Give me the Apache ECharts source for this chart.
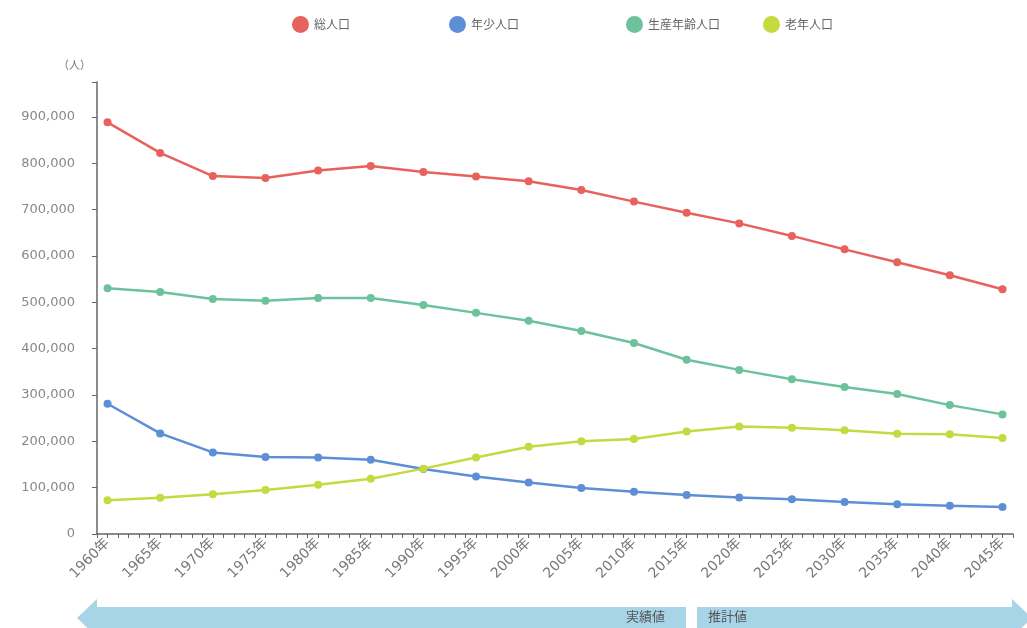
<!DOCTYPE html>
<html>
<head>
<meta charset="utf-8">
<script src="https://cdn.jsdelivr.net/npm/echarts@6/dist/echarts.min.js"></script>
<style>
  html, body { margin: 0; padding: 0; background: #fff; }
  #main { width: 1027px; height: 628px; }
</style>
</head>
<body>
<div id="main"></div>
<script>
// 年次（5年ごと）
var years = [1960, 1965, 1970, 1975, 1980, 1985, 1990, 1995, 2000, 2005,
             2010, 2015, 2020, 2025, 2030, 2035, 2040, 2045];

var seriesNames = ['総人口', '年少人口', '生産年齢人口', '老年人口'];

var totalPop = [888000, 822000, 772000, 768000, 784000, 794000, 781000, 771000, 761000,
                742000, 717000, 693000, 670000, 643000, 614000, 586000, 558000, 528000];
var youngPop = [281000, 217000, 176000, 166000, 165000, 160000, 140000, 124000, 111000,
                99000, 91000, 84000, 79000, 75000, 69000, 64000, 61000, 58000];
var workingPop = [530000, 522000, 507000, 503000, 509000, 509000, 494000, 477000, 460000,
                  438000, 412000, 376000, 354000, 334000, 317000, 302000, 278000, 258000];
var elderlyPop = [73000, 78000, 86000, 95000, 106000, 119000, 141000, 165000, 188000,
                  200000, 205000, 221000, 232000, 229000, 224000, 216000, 215000, 207000];

var colors = ['#e8625d', '#5c8fd6', '#6cc29c', '#c4da40'];

function pairs(values) {
    return years.map(function (y, i) { return [y, values[i]]; });
}

var chartDom = document.getElementById('main');
var myChart = echarts.init(chartDom);
var font = '"Noto Sans CJK JP", "Noto Sans", sans-serif';
var numFont = '"DejaVu Sans", "Noto Sans CJK JP", sans-serif';

var legendLefts = [287, 444, 621, 758];
var legends = seriesNames.map(function (name, i) {
    return {
        data: [name],
        left: legendLefts[i],
        top: 11,
        icon: 'circle',
        itemWidth: 17,
        itemHeight: 17,
        itemGap: 0,
        textStyle: { color: '#666', fontSize: 12, fontFamily: font }
    };
});

var option = {
    animation: false,
    color: colors,
    textStyle: { fontFamily: font },
    legend: legends,
    grid: { left: 97, right: 14, top: 82, bottom: 94 },
    xAxis: {
        type: 'value',
        min: 1959,
        max: 2046,
        interval: 1,
        splitLine: { show: false },
        axisLine: { lineStyle: { color: '#666', width: 1.5 } },
        axisTick: { length: 4, lineStyle: { color: '#666' } },
        axisLabel: {
            rotate: 45,
            color: '#777',
            fontSize: 14,
            fontFamily: numFont,
            margin: 7,
            formatter: function (v) { return v % 5 === 0 ? v + '年' : ''; }
        }
    },
    yAxis: {
        type: 'value',
        min: 0,
        max: 975000,
        interval: 100000,
        name: '（人）',
        nameLocation: 'end',
        nameGap: 12,
        nameTextStyle: { color: '#777', fontSize: 11, align: 'right', padding: [0, 6, 0, 0] },
        splitLine: { show: false },
        axisLine: { show: true, lineStyle: { color: '#666', width: 1.5 } },
        axisTick: { show: true, length: 5, lineStyle: { color: '#666' } },
        axisLabel: {
            color: '#888',
            fontSize: 13,
            fontFamily: numFont,
            margin: 22,
            formatter: function (v) {
                if (v % 100000 !== 0) return '';
                return v.toLocaleString('en-US');
            }
        }
    },
    graphic: [
        {
            type: 'polygon',
            shape: { points: [[77, 618], [97, 599], [97, 607], [686, 607], [686, 629], [97, 629], [97, 637]] },
            style: { fill: '#a8d4e8' }
        },
        {
            type: 'polygon',
            shape: { points: [[697, 607], [1012, 607], [1012, 599], [1032, 618], [1012, 637], [1012, 629], [697, 629]] },
            style: { fill: '#a8d4e8' }
        },
        {
            type: 'text',
            left: 626, top: 610,
            style: { text: '実績値', fill: '#555', font: '13px ' + font }
        },
        {
            type: 'text',
            left: 708, top: 610,
            style: { text: '推計値', fill: '#555', font: '13px ' + font }
        }
    ],
    series: [
        { name: seriesNames[0], data: pairs(totalPop) },
        { name: seriesNames[1], data: pairs(youngPop) },
        { name: seriesNames[2], data: pairs(workingPop) },
        { name: seriesNames[3], data: pairs(elderlyPop) }
    ].map(function (s) {
        s.type = 'line';
        s.symbol = 'circle';
        s.symbolSize = 8;
        s.lineStyle = { width: 2.5 };
        return s;
    })
};

option && myChart.setOption(option);
</script>
</body>
</html>
